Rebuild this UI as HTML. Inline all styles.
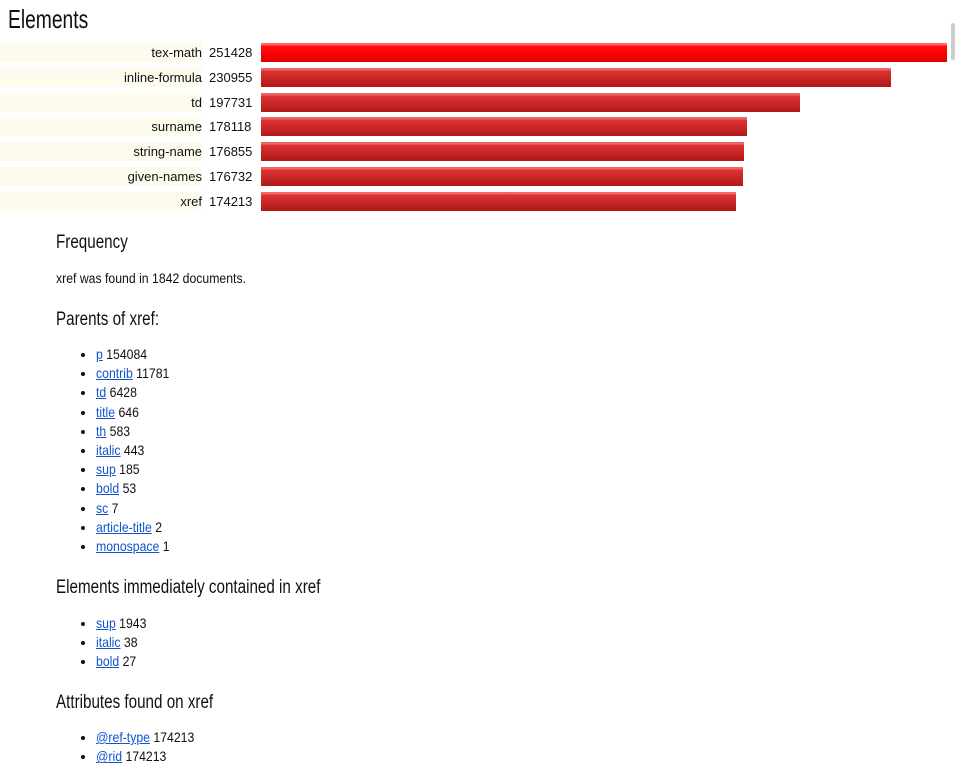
<!DOCTYPE html>
<html><head><meta charset="utf-8"><style>
body{margin:0;width:955px;height:779px;overflow:hidden;background:#fff;font-family:"Liberation Sans Narrow","Liberation Sans",sans-serif;color:#111;position:relative}
h1{position:absolute;left:8px;top:4px;margin:0;font-weight:normal;font-size:26px;transform:scaleX(0.74);transform-origin:0 0}
.row{position:absolute;left:0;height:19px;font-size:13px;line-height:19px}
.lab{position:absolute;left:0;width:202px;height:19px;background:#fdfbee;text-align:right}
.num{position:absolute;left:209px;width:44px}
.bar{position:absolute;left:261px;height:19px;background:linear-gradient(#e66 0,#e66 2px,#d33 3px,#b01818 100%)}
.bar.top{background:linear-gradient(#f66 0,#f66 2px,#f11 3px,#f00 50%,#d00 100%)}
.content{position:absolute;left:56px;top:228px;font-size:14px}
.sx{transform:scaleX(0.875);transform-origin:0 0}
h2{font-weight:normal;font-size:19px;margin:0;transform:scaleX(0.8);transform-origin:0 0}
ul{margin:0;padding-left:40px}
li{line-height:19.2px}
li span.t{display:inline-block;transform:scaleX(0.875);transform-origin:0 0}
a{color:#1155cc}
</style></head><body>
<h1>Elements</h1>
<div id="chart"></div>
<div style="position:absolute;left:951px;top:23px;width:4px;height:37px;background:#ccc;border-radius:2px"></div>
<div class="content">
<h2 style="position:absolute;top:4px;white-space:nowrap">Frequency</h2>
<div class="sx" style="position:absolute;top:42px;white-space:nowrap">xref was found in 1842 documents.</div>
<h2 style="position:absolute;top:81px;white-space:nowrap">Parents of xref:</h2>
<ul style="position:absolute;top:117px;white-space:nowrap">
<li><span class="t"><a href="#">p</a> 154084</span></li>
<li><span class="t"><a href="#">contrib</a> 11781</span></li>
<li><span class="t"><a href="#">td</a> 6428</span></li>
<li><span class="t"><a href="#">title</a> 646</span></li>
<li><span class="t"><a href="#">th</a> 583</span></li>
<li><span class="t"><a href="#">italic</a> 443</span></li>
<li><span class="t"><a href="#">sup</a> 185</span></li>
<li><span class="t"><a href="#">bold</a> 53</span></li>
<li><span class="t"><a href="#">sc</a> 7</span></li>
<li><span class="t"><a href="#">article-title</a> 2</span></li>
<li><span class="t"><a href="#">monospace</a> 1</span></li>
</ul>
<h2 style="position:absolute;top:349px;white-space:nowrap">Elements immediately contained in xref</h2>
<ul style="position:absolute;top:386px;white-space:nowrap">
<li><span class="t"><a href="#">sup</a> 1943</span></li>
<li><span class="t"><a href="#">italic</a> 38</span></li>
<li><span class="t"><a href="#">bold</a> 27</span></li>
</ul>
<h2 style="position:absolute;top:464px;white-space:nowrap">Attributes found on xref</h2>
<ul style="position:absolute;top:500px;white-space:nowrap">
<li><span class="t"><a href="#">@ref-type</a> 174213</span></li>
<li><span class="t"><a href="#">@rid</a> 174213</span></li>
</ul>
</div>
<script>
const categories=["tex-math","inline-formula","td","surname","string-name","given-names","xref"];
const counts=[251428,230955,197731,178118,176855,176732,174213];
const chart=document.getElementById('chart');
const maxW=686,maxV=Math.max(...counts);
function xScale(v){return v/maxV*maxW;}
function yPos(i){return 43+i*24.8;}
categories.forEach((c,i)=>{
  const r=document.createElement('div');r.className='row';r.style.top=yPos(i)+'px';
  
  
  const l=document.createElement('div');l.className='lab';l.textContent=c;
  
  
  const n=document.createElement('div');n.className='num';n.textContent=counts[i];
  
  
  const b=document.createElement('div');b.className='bar'+(i===0?' top':'');b.style.width=xScale(counts[i])+'px';
  
  
  r.append(l,n,b);chart.appendChild(r);
});
</script>
</body></html>
